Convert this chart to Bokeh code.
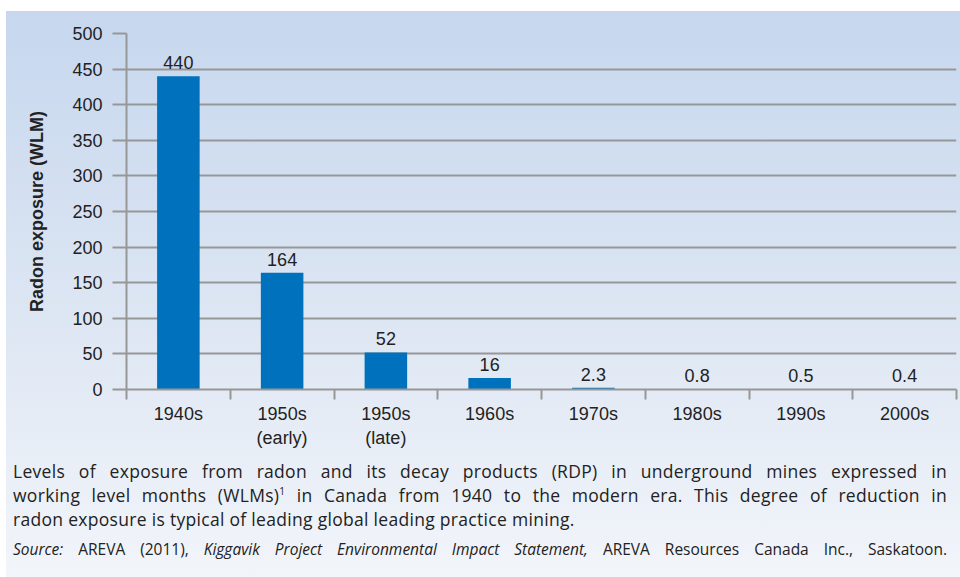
from bokeh.plotting import figure
from bokeh.models import Range1d, FixedTicker, Div
from bokeh.layouts import column
from bokeh.core.properties import value
from bokeh.embed import file_html
from bokeh.resources import INLINE

# ---- data ----
categories = ["1940s", "1950s\n(early)", "1950s\n(late)", "1960s", "1970s", "1980s", "1990s", "2000s"]
exposure = [440, 164, 52, 16, 2.3, 0.8, 0.5, 0.4]
value_labels = ["440", "164", "52", "16", "2.3", "0.8", "0.5", "0.4"]
y_ticks = [0, 50, 100, 150, 200, 250, 300, 350, 400, 450, 500]

n = len(categories)
centers = [i + 0.5 for i in range(n)]
bounds = [float(i) for i in range(n + 1)]

GRID = "#979797"
TXT = "#222222"
FONT = "Liberation Sans"

p = figure(width=960, height=456, output_backend="svg", toolbar_location=None,
           x_range=Range1d(0, n), y_range=Range1d(0, 500),
           min_border_left=126, min_border_right=4, min_border_top=33, min_border_bottom=67)
p.background_fill_alpha = 0
p.border_fill_alpha = 0
p.outline_line_color = None

p.vbar(x=centers, top=exposure, width=0.41, color="#0071bc", line_color=None)
p.text(x=centers, y=exposure, text=value_labels, y_offset=-7,
       text_align="center", text_baseline="bottom",
       text_font=value(FONT), text_font_size="18px", text_color=TXT)

# y axis
ya = p.yaxis[0]
ya.ticker = FixedTicker(ticks=y_ticks)
ya.axis_label = "Radon exposure (WLM)"
ya.axis_label_text_font = FONT
ya.axis_label_text_font_style = "bold"
ya.axis_label_text_font_size = "18px"
ya.axis_label_text_color = TXT
ya.axis_label_standoff = 22
ya.major_label_text_font = FONT
ya.major_label_text_font_size = "18px"
ya.major_label_text_color = TXT
ya.major_label_standoff = 10
ya.major_tick_out = 14
ya.major_tick_in = 0
ya.major_tick_line_color = GRID
ya.major_tick_line_width = 2
ya.minor_tick_line_color = None
ya.axis_line_color = GRID
ya.axis_line_width = 2

# x axis
xa = p.xaxis[0]
xa.ticker = FixedTicker(ticks=centers, minor_ticks=bounds)
xa.major_label_overrides = {c: lab for c, lab in zip(centers, categories)}
xa.major_label_text_font = FONT
xa.major_label_text_font_size = "18px"
xa.major_label_text_color = TXT
xa.major_label_standoff = 4
xa.major_tick_out = 0
xa.major_tick_in = 0
xa.major_tick_line_color = None
xa.minor_tick_out = 10
xa.minor_tick_in = 0
xa.minor_tick_line_color = GRID
xa.minor_tick_line_width = 2
xa.axis_line_color = GRID
xa.axis_line_width = 2

p.xgrid.grid_line_color = None
p.ygrid.grid_line_color = GRID
p.ygrid.grid_line_width = 2

LINE = "font-size:17.5px;line-height:24px;letter-spacing:0.3px;white-space:nowrap;"
JUST = "text-align:justify;text-align-last:justify;"
caption_html = f"""
<div style="font-family:'Open Sans',sans-serif;color:#222;padding:0 5px 0 8px;width:947px;">
<div style="{LINE}{JUST}margin-top:-2px;">Levels of exposure from radon and its decay products (RDP) in underground mines expressed in</div>
<div style="{LINE}{JUST}">working level months (WLMs)<sup style="font-size:10px;line-height:0;">1</sup> in Canada from 1940 to the modern era. This degree of reduction in</div>
<div style="{LINE}text-align:left;">radon exposure is typical of leading global leading practice mining.</div>
<div style="font-size:15.5px;line-height:20px;margin-top:8px;white-space:nowrap;{JUST}"><i>Source:</i> AREVA (2011), <i>Kiggavik Project Environmental Impact Statement,</i> AREVA Resources Canada Inc., Saskatoon.</div>
</div>
"""
cap = Div(text=caption_html, width=960, height=121)

bg = ("linear-gradient(to right, #ffffff 0px, #ffffff 6px, rgba(255,255,255,0) 6px), "
      "linear-gradient(to bottom, #ffffff 0px, #ffffff 11px, #c6d7ee 11px, #dde6f3 55%, #f2f5fa 100%)")
layout = column(p, cap, width=960, height=577, styles={"background": bg})

open("out.html", "w").write(file_html(layout, INLINE))
